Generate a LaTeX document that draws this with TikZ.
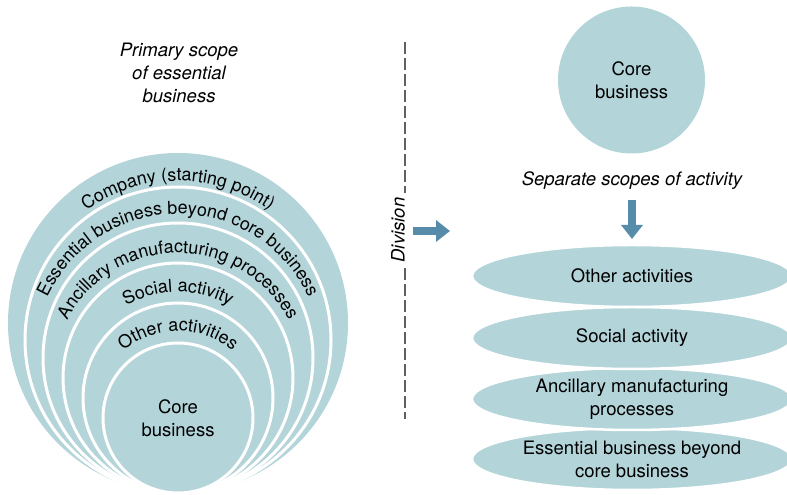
\documentclass[tikz,border=0pt]{standalone}
\usepackage{fontspec}
\setmainfont{TeX Gyre Heros}
\usetikzlibrary{decorations.text,arrows.meta,shapes.geometric}
\definecolor{scopefill}{RGB}{179,212,217}
\definecolor{arrowblue}{RGB}{86,139,170}
\definecolor{dashgray}{RGB}{95,95,95}
\newcommand\lblfont{\fontsize{18.5}{23}\selectfont}
\newcommand\arcfont{\fontsize{17.9}{22}\selectfont}
\begin{document}
\begin{tikzpicture}[x=1pt,y=1pt,
  ring/.style={circle, fill=scopefill, draw=white, line width=3pt, inner sep=0pt},
  oval/.style={ellipse, fill=scopefill, draw=white, line width=2.5pt, inner sep=0pt, minimum width=320pt, minimum height=62pt},
  lbl/.style={font=\lblfont, align=center},
  ilbl/.style={font=\lblfont\itshape, align=center},
  fat/.style={draw=arrowblue, line width=8pt, -{Triangle[width=21pt,length=14pt]}},
  divline/.style={draw=dashgray, line width=2pt, dash pattern=on 12pt off 4pt},
  arctext/.style={decorate, decoration={text along path, text align=center, text={|\arcfont|#1}}}
]
\clip (0,0) rectangle (787,495);
% left nested circles
\node[ring, draw=none, minimum size=340pt] (c1) at (178,172) {};
\node[ring, minimum size=306pt] (c2) at (178,155) {};
\node[ring, minimum size=270pt] (c3) at (178,137) {};
\node[ring, minimum size=230pt] (c4) at (178,117) {};
\node[ring, minimum size=190pt] (c5) at (178,97) {};
\node[ring, minimum size=150pt] (c6) at (178,77) {};
\node[lbl] (core1) at (c6.center) {Core\\business};
\path[arctext={Company (starting point)}] (c2.center) ++(180:159) arc[start angle=180, end angle=0, radius=159];
\path[arctext={Essential business beyond core business}] (c3.center) ++(180:144) arc[start angle=180, end angle=0, radius=144];
\path[arctext={Ancillary manufacturing processes}] (c4.center) ++(180:125) arc[start angle=180, end angle=0, radius=125];
\path[arctext={Social activity}] (c5.center) ++(180:106) arc[start angle=180, end angle=0, radius=106];
\path[arctext={Other activities}] (c6.center) ++(180:87) arc[start angle=180, end angle=0, radius=87];
\node[ilbl] (primary) at (179,422) {Primary scope\\of essential\\business};
% division
\coordinate (d1) at (405,453);
\coordinate (d2) at (405,302);
\coordinate (d3) at (405,227);
\coordinate (d4) at (405,76);
\draw[divline] (d1) -- (d2);
\draw[divline] (d3) -- (d4);
\node[ilbl, rotate=90] (division) at (398,265) {Division};
\coordinate (a1) at (413,264);
\coordinate (a2) at (450,264);
\draw[fat] (a1) -- (a2);
% right side
\node[ring, draw=none, minimum size=147pt] (core2) at (631.5,415) {};
\node[lbl] at (core2.center) {Core\\business};
\node[ilbl] (sep) at (632,314) {Separate scopes of activity};
\node[oval] (e4) at (632,36) {};
\node[oval] (e3) at (632,96) {};
\node[oval] (e2) at (632,157) {};
\node[oval] (e1) at (632,219) {};
\node[lbl] at (e1.center) {Other activities};
\node[lbl] at (e2.center) {Social activity};
\node[lbl] at (e3.center) {Ancillary manufacturing\\processes};
\node[lbl] at (e4.center) {Essential business beyond\\core business};
\coordinate (b1) at (632,295);
\coordinate (b2) at (632,256);
\draw[fat] (b1) -- (b2);
\end{tikzpicture}
\end{document}
